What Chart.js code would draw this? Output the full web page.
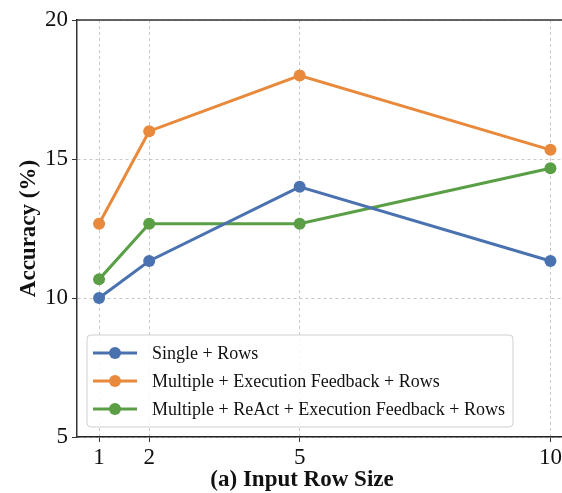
<!DOCTYPE html>
<html>
<head>
<meta charset="utf-8">
<script src="https://cdn.jsdelivr.net/npm/chart.js@4"></script>
<style>
  html, body { margin: 0; padding: 0; background: #fff; overflow: hidden; }
  #wrap { width: 562px; height: 493px; overflow: hidden; position: relative; }
  #wrap canvas { position: absolute; left: 0; top: 0; }
</style>
</head>
<body>
<div id="wrap"><canvas id="chart" width="590" height="493"></canvas></div>
<script>
// data
const rowSizes = [1, 2, 5, 10];
const xTicks = [1, 2, 5, 10];
const yTicks = [5, 10, 15, 20];
const seriesNames = [
    "Single + Rows",
    "Multiple + Execution Feedback + Rows",
    "Multiple + ReAct + Execution Feedback + Rows"
];
const singleRows = [10.0, 11.33, 14.0, 11.33];
const multiExec = [12.67, 16.0, 18.0, 15.33];
const multiReact = [10.67, 12.67, 12.67, 14.67];
const colors = ["#4a72b0", "#e8893b", "#5a9e46"];
const xTitle = "(a) Input Row Size";
const yTitle = "Accuracy (%)";

const FONT = "'Liberation Serif', 'Times New Roman', serif";

function makeSet(label, values, color) {
    return {
        label: label,
        data: rowSizes.map((x, i) => ({ x: x, y: values[i] })),
        borderColor: color,
        backgroundColor: color,
        borderWidth: 3,
        pointRadius: 6,
        pointHoverRadius: 6,
        pointBorderWidth: 0,
        tension: 0
    };
}

// frame, axis titles and legend drawn by hand, placed like the original
const framePlugin = {
    id: "frame",
    afterDatasetsDraw(chart) {
        const { ctx, chartArea: a } = chart;
        ctx.save();
        ctx.strokeStyle = "#333";
        ctx.lineWidth = 1.5;
        ctx.beginPath();
        ctx.moveTo(a.left, a.top);
        ctx.lineTo(a.right, a.top);
        ctx.lineTo(a.right, a.bottom);
        ctx.stroke();

        // axis titles
        ctx.fillStyle = "#111";
        ctx.textAlign = "center";
        ctx.textBaseline = "middle";
        ctx.font = "bold 23px " + FONT;
        ctx.fillText(xTitle, 302, 480);
        ctx.save();
        ctx.translate(29, (a.top + a.bottom) / 2);
        ctx.rotate(-Math.PI / 2);
        ctx.fillText(yTitle, 0, 0);
        ctx.restore();

        // legend
        const bx = a.left + 10, by = a.bottom - 102, bw = 426, bh = 92;
        ctx.beginPath();
        ctx.roundRect(bx, by, bw, bh, 4);
        ctx.fillStyle = "rgba(255,255,255,0.85)";
        ctx.fill();
        ctx.strokeStyle = "#d0d0d0";
        ctx.lineWidth = 1;
        ctx.stroke();

        ctx.font = "18px " + FONT;
        ctx.textAlign = "left";
        chart.data.datasets.forEach((ds, i) => {
            const y = by + 18 + i * 28;
            ctx.strokeStyle = ds.borderColor;
            ctx.lineWidth = 3;
            ctx.beginPath();
            ctx.moveTo(bx + 6, y);
            ctx.lineTo(bx + 50, y);
            ctx.stroke();
            ctx.fillStyle = ds.borderColor;
            ctx.beginPath();
            ctx.arc(bx + 28, y, 6, 0, Math.PI * 2);
            ctx.fill();
            ctx.fillStyle = "#111";
            ctx.fillText(ds.label, bx + 65, y + 1);
        });
        ctx.restore();
    }
};

new Chart(document.getElementById("chart").getContext("2d"), {
    type: "line",
    data: {
        datasets: [
            makeSet(seriesNames[0], singleRows, colors[0]),
            makeSet(seriesNames[1], multiExec, colors[1]),
            makeSet(seriesNames[2], multiReact, colors[2])
        ]
    },
    options: {
        responsive: false,
        animation: false,
        layout: { padding: { left: 0, top: 20, right: 17, bottom: 0 } },
        plugins: { legend: { display: false }, tooltip: { enabled: false } },
        scales: {
            x: {
                type: "linear",
                min: 0.56,
                max: 10.45,
                afterBuildTicks: (s) => { s.ticks = xTicks.map(v => ({ value: v })); },
                afterFit: (s) => { s.height = 56; },
                ticks: {
                    color: "#111",
                    font: { family: FONT, size: 23 },
                    padding: 2,
                    maxRotation: 0
                },
                grid: { color: "#c8c8c8", tickColor: "#333", tickLength: 5, tickBorderDash: [] },
                border: { color: "#222", width: 1.5, dash: [3, 3] }
            },
            y: {
                min: 5,
                max: 20,
                afterBuildTicks: (s) => { s.ticks = yTicks.map(v => ({ value: v })); },
                afterFit: (s) => { s.width = 77; },
                ticks: {
                    color: "#111",
                    font: { family: FONT, size: 23 },
                    padding: 4
                },
                grid: { color: "#c8c8c8", tickColor: "#333", tickLength: 5, tickBorderDash: [] },
                border: { color: "#333", width: 1.5, dash: [3, 3] }
            }
        }
    },
    plugins: [framePlugin]
});
</script>
</body>
</html>
